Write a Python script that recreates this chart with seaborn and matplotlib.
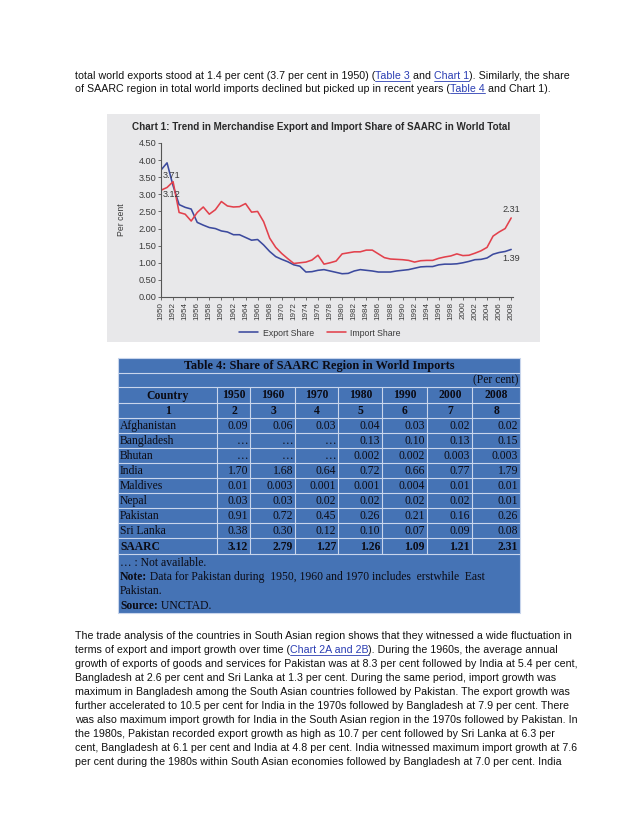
import matplotlib
matplotlib.use("Agg")
import matplotlib.pyplot as plt
import seaborn as sns
import pandas as pd
import numpy as np
from matplotlib.patches import Rectangle


# ==========================
# DATA
# ==========================

years = list(range(1950, 2009))

export_share = [3.71, 3.92, 3.25, 2.70, 2.62, 2.57, 2.18, 2.10, 2.03, 2.00,
                1.93, 1.90, 1.82, 1.82, 1.74, 1.66, 1.68, 1.52, 1.33, 1.18,
                1.10, 1.03, 0.94, 0.90, 0.73, 0.74, 0.78, 0.80, 0.76, 0.72,
                0.68, 0.69, 0.76, 0.80, 0.78, 0.76, 0.73, 0.73, 0.73, 0.76,
                0.78, 0.80, 0.84, 0.88, 0.89, 0.89, 0.94, 0.96, 0.96, 0.97,
                1.00, 1.04, 1.09, 1.10, 1.14, 1.25, 1.30, 1.33, 1.39]

import_share = [3.12, 3.20, 3.37, 2.47, 2.42, 2.22, 2.47, 2.63, 2.42, 2.55,
                2.79, 2.66, 2.63, 2.64, 2.73, 2.48, 2.50, 2.20, 1.72, 1.45,
                1.27, 1.12, 0.98, 1.00, 1.02, 1.08, 1.22, 0.96, 1.00, 1.05,
                1.26, 1.29, 1.32, 1.32, 1.37, 1.37, 1.26, 1.15, 1.11, 1.10,
                1.09, 1.07, 1.02, 1.06, 1.07, 1.07, 1.13, 1.17, 1.20, 1.26,
                1.21, 1.22, 1.28, 1.35, 1.45, 1.78, 1.90, 2.00, 2.31]

table_years = ["1950", "1960", "1970", "1980", "1990", "2000", "2008"]
table_numbers = ["1", "2", "3", "4", "5", "6", "7", "8"]
countries = ["Afghanistan", "Bangladesh", "Bhutan", "India", "Maldives",
             "Nepal", "Pakistan", "Sri Lanka"]
country_values = [
    ["0.09", "0.06", "0.03", "0.04", "0.03", "0.02", "0.02"],
    ["…", "…", "…", "0.13", "0.10", "0.13", "0.15"],
    ["…", "…", "…", "0.002", "0.002", "0.003", "0.003"],
    ["1.70", "1.68", "0.64", "0.72", "0.66", "0.77", "1.79"],
    ["0.01", "0.003", "0.001", "0.001", "0.004", "0.01", "0.01"],
    ["0.03", "0.03", "0.02", "0.02", "0.02", "0.02", "0.01"],
    ["0.91", "0.72", "0.45", "0.26", "0.21", "0.16", "0.26"],
    ["0.38", "0.30", "0.12", "0.10", "0.07", "0.09", "0.08"],
]
saarc_values = ["3.12", "2.79", "1.27", "1.26", "1.09", "1.21", "2.31"]

top_lines = [
    [("total world exports stood at 1.4 per cent (3.7 per cent in 1950) (", "n"),
     ("Table 3", "link"), (" and ", "n"), ("Chart 1", "link"),
     ("). Similarly, the share", "n")],
    [("of SAARC region in total world imports declined but picked up in recent years (", "n"),
     ("Table 4", "link"), (" and Chart 1).", "n")],
]

body_lines = [
    [("The trade analysis of the countries in South Asian region shows that they witnessed a wide fluctuation in", "n")],
    [("terms of export and import growth over time (", "n"), ("Chart 2A and 2B", "link"),
     ("). During the 1960s, the average annual", "n")],
    [("growth of exports of goods and services for Pakistan was at 8.3 per cent followed by India at 5.4 per cent,", "n")],
    [("Bangladesh at 2.6 per cent and Sri Lanka at 1.3 per cent. During the same period, import growth was", "n")],
    [("maximum in Bangladesh among the South Asian countries followed by Pakistan. The export growth was", "n")],
    [("further accelerated to 10.5 per cent for India in the 1970s followed by Bangladesh at 7.9 per cent. There", "n")],
    [("was also maximum import growth for India in the South Asian region in the 1970s followed by Pakistan. In", "n")],
    [("the 1980s, Pakistan recorded export growth as high as 10.7 per cent followed by Sri Lanka at 6.3 per", "n")],
    [("cent, Bangladesh at 6.1 per cent and India at 4.8 per cent. India witnessed maximum import growth at 7.6", "n")],
    [("per cent during the 1980s within South Asian economies followed by Bangladesh at 7.0 per cent. India", "n")],
]


# ==========================
# STYLE
# ==========================

sns.set_style("ticks")
plt.rcParams["font.family"] = ["Liberation Sans", "DejaVu Sans"]

BLUE = "#3c4a9e"
RED = "#e2414c"
CHART_BG = "#e8e8ea"
TABLE_BG = "#4573b5"
TABLE_LINE = "#c8d5ec"
TEXT = "#111111"
LINK = "#2b3eb3"
AXIS_TXT = "#3a3a3a"

W, H = 638, 826
fig = plt.figure(figsize=(W / 100, H / 100), dpi=100)
fig.patch.set_facecolor("white")

page = fig.add_axes([0, 0, 1, 1])
page.set_xlim(0, W)
page.set_ylim(H, 0)
page.axis("off")

renderer = fig.canvas.get_renderer()


def draw_runs(x, y, runs, size=7.7, family="Liberation Sans", color=TEXT):
    for txt, kind in runs:
        c = LINK if kind == "link" else color
        t = page.text(x, y, txt, fontsize=size, family=family, color=c,
                      ha="left", va="baseline",
                      fontweight="bold" if kind == "bold" else "normal")
        w = t.get_window_extent(renderer).width
        if kind == "link":
            page.plot([x, x + w], [y + 1.6, y + 1.6], color=LINK, lw=0.6)
        x += w


# ==========================
# PAGE TEXT
# ==========================

for i, runs in enumerate(top_lines):
    draw_runs(75, 79 + i * 12.5, runs)

for i, runs in enumerate(body_lines):
    draw_runs(75, 639 + i * 14, runs)


# ==========================
# CHART
# ==========================

page.add_patch(Rectangle((107, 114), 433, 228, facecolor=CHART_BG, edgecolor="none"))
page.text(321, 130, "Chart 1: Trend in Merchandise Export and Import Share of SAARC in World Total",
          fontsize=7.1, fontweight="bold", color="#2a2a2a", ha="center", va="baseline")

ax = fig.add_axes([161 / W, 1 - 297 / H, (513 - 161) / W, (297 - 143) / H])
ax.set_facecolor("none")

df = pd.DataFrame({
    "Year": years + years,
    "Share": export_share + import_share,
    "Series": ["Export Share"] * len(years) + ["Import Share"] * len(years),
})

sns.lineplot(data=df, x="Year", y="Share", hue="Series",
             palette={"Export Share": BLUE, "Import Share": RED},
             linewidth=1.15, ax=ax)

ax.set_xlim(1950, 2008.3)
ax.set_ylim(0, 4.5)
ax.set_xticks(years[::2])
ax.set_xticklabels([str(y) for y in years[::2]], rotation=90, fontsize=5.8, color=AXIS_TXT)
yt = np.arange(0, 4.51, 0.5)
ax.set_yticks(yt)
ax.set_yticklabels([f"{v:.2f}" for v in yt], fontsize=6.6, color=AXIS_TXT)
ax.tick_params(length=2.5, width=0.6, color="#555555", pad=1)
ax.set_xlabel("")
ax.set_ylabel("Per cent", fontsize=6.2, color=AXIS_TXT, labelpad=9)
sns.despine(ax=ax)
for s in ["left", "bottom"]:
    ax.spines[s].set_color("#555555")
    ax.spines[s].set_linewidth(0.8)

ax.annotate(f"{export_share[0]:.2f}", xy=(years[0], export_share[0]), xytext=(1, -4),
            textcoords="offset points", fontsize=6.6, color=AXIS_TXT, ha="left", va="center")
ax.annotate(f"{import_share[0]:.2f}", xy=(years[0], import_share[0]), xytext=(1, -3),
            textcoords="offset points", fontsize=6.6, color=AXIS_TXT, ha="left", va="center")
ax.annotate(f"{import_share[-1]:.2f}", xy=(years[-1], import_share[-1]), xytext=(0, 3),
            textcoords="offset points", fontsize=6.6, color=AXIS_TXT, ha="center", va="bottom")
ax.annotate(f"{export_share[-1]:.2f}", xy=(years[-1], export_share[-1]), xytext=(0, -3),
            textcoords="offset points", fontsize=6.6, color=AXIS_TXT, ha="center", va="top")

handles, labels = ax.get_legend_handles_labels()
ax.legend(handles, labels, loc="center", bbox_to_anchor=(320 / W, 1 - 333 / H),
          bbox_transform=fig.transFigure, ncol=2, frameon=False, fontsize=6.3,
          handlelength=2.2, columnspacing=1.5, handletextpad=0.5,
          labelcolor=AXIS_TXT)


# ==========================
# TABLE 4
# ==========================

col_edges = [118, 217, 250, 295, 338, 382, 427, 472, 520]
row_edges = [358, 373, 387, 403, 418] + [418 + 15 * (i + 1) for i in range(len(countries))] + [554, 613]

page.add_patch(Rectangle((col_edges[0], row_edges[0]), col_edges[-1] - col_edges[0],
                         row_edges[-1] - row_edges[0], facecolor=TABLE_BG,
                         edgecolor=TABLE_LINE, lw=0.8))
for yy in row_edges[1:-1]:
    page.plot([col_edges[0], col_edges[-1]], [yy, yy], color=TABLE_LINE, lw=0.8)
for xx in col_edges[1:-1]:
    page.plot([xx, xx], [row_edges[2], row_edges[-2]], color=TABLE_LINE, lw=0.8)

TF = "Liberation Serif"
TC = "#0b0b14"
FS = 8.4


def mid(a, b):
    return (a + b) / 2 + 0.5


page.text(319, mid(row_edges[0], row_edges[1]), "Table 4: Share of SAARC Region in World Imports",
          family=TF, fontsize=8.8, fontweight="bold", color=TC, ha="center", va="center")
page.text(col_edges[-1] - 1.5, mid(row_edges[1], row_edges[2]), "(Per cent)",
          family=TF, fontsize=FS, color=TC, ha="right", va="center")

header = ["Country"] + table_years
for j, h in enumerate(header):
    page.text(mid(col_edges[j], col_edges[j + 1]), mid(row_edges[2], row_edges[3]), h,
              family=TF, fontsize=FS, fontweight="bold", color=TC, ha="center", va="center")
for j, h in enumerate(table_numbers):
    page.text(mid(col_edges[j], col_edges[j + 1]), mid(row_edges[3], row_edges[4]), h,
              family=TF, fontsize=FS, fontweight="bold", color=TC, ha="center", va="center")

body_rows = [(c, v, "normal") for c, v in zip(countries, country_values)] + [("SAARC", saarc_values, "bold")]
for i, (name, vals, wt) in enumerate(body_rows):
    yc = mid(row_edges[4 + i], row_edges[5 + i])
    page.text(col_edges[0] + 2, yc, name, family=TF, fontsize=FS, fontweight=wt,
              color=TC, ha="left", va="center")
    for j, v in enumerate(vals):
        page.text(col_edges[j + 2] - 2, yc, v, family=TF, fontsize=FS, fontweight=wt,
                  color=TC, ha="right", va="center")

note_runs = [
    [("… : Not available.", "n")],
    [("Note:", "bold"), (" Data for Pakistan during  1950, 1960 and 1970 includes  erstwhile  East", "n")],
    [("Pakistan.", "n")],
    [("Source:", "bold"), (" UNCTAD.", "n")],
]
for i, runs in enumerate(note_runs):
    draw_runs(col_edges[0] + 2, 565.5 + i * 14.5, runs, size=FS, family=TF, color=TC)

fig.savefig("out.png", dpi=100)
